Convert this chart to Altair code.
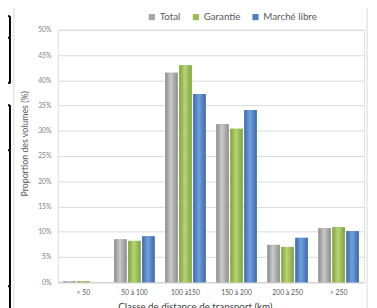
import altair as alt
import pandas as pd

categories = ["< 50", "50 à 100", "100 à150", "150 à 200", "200 à 250", "> 250"]
series = ["Total", "Garantie", "Marché libre"]
total = [0.2, 8.5, 41.5, 31.3, 7.4, 10.7]
garantie = [0.2, 8.2, 43.0, 30.4, 7.0, 10.9]
marche_libre = [0.0, 9.1, 37.3, 34.1, 8.8, 10.1]
legend_colors = ["#A5A5A5", "#9BBB59", "#4F81BD"]
edge_colors = ["#8C8C8C", "#7FA33A", "#3A6AAA"]
center_colors = ["#CACACA", "#B8D578", "#72A0DC"]
y_ticks = [0, 5, 10, 15, 20, 25, 30, 35, 40, 45, 50]

rows = []
for s, vals in zip(series, [total, garantie, marche_libre]):
    for c, v in zip(categories, vals):
        rows.append({"classe": c, "serie": s, "valeur": v})
df = pd.DataFrame(rows)

FONT = "Lato"

x_enc = alt.X(
    "classe:N",
    sort=categories,
    scale=alt.Scale(paddingInner=0.21, paddingOuter=0.105),
    axis=alt.Axis(
        title="Classe de distance de transport (km)",
        labelAngle=0,
        ticks=False,
        labelPadding=7,
        labelFontSize=7,
        labelColor="#595959",
        titleFontSize=10,
        titleFontWeight="normal",
        titleColor="#404040",
        titleX=140,
        titleY=28,
        titleBaseline="alphabetic",
        domainColor="#D0D0D0",
    ),
)
y_enc = alt.Y(
    "valeur:Q",
    scale=alt.Scale(domain=[0, 50], nice=False),
    axis=alt.Axis(
        title="Proportion des volumes (%)",
        values=y_ticks,
        labelExpr="datum.value + '%'",
        labelOverlap=False,
        grid=True,
        gridColor="#D9D9D9",
        domain=False,
        ticks=False,
        labelPadding=7,
        labelFontSize=7,
        labelColor="#7F7F7F",
        titleFontSize=9,
        titleFontWeight="normal",
        titleColor="#595959",
        titleY=116,
        titlePadding=8,
    ),
)
xoff = alt.XOffset("serie:N", sort=series,
                   scale=alt.Scale(domain=series, paddingInner=0.12, paddingOuter=0))

base = alt.Chart(df).mark_bar().encode(
    x=x_enc,
    y=y_enc,
    xOffset=xoff,
    color=alt.Color(
        "serie:N",
        sort=series,
        scale=alt.Scale(domain=series, range=legend_colors),
        legend=alt.Legend(
            title=None,
            orient="none",
            direction="horizontal",
            legendX=91,
            legendY=-18,
            symbolType="square",
            symbolSize=40,
            symbolStrokeWidth=0,
            labelFontSize=10,
            labelColor="#595959",
            labelFont=FONT,
            columnPadding=10,
            labelOffset=3,
            padding=0,
        ),
    ),
)

layers = [base]
for s, e, c in zip(series, edge_colors, center_colors):
    grad = alt.Gradient(
        gradient="linear",
        x1=0, x2=1, y1=0, y2=0,
        stops=[
            alt.GradientStop(color=e, offset=0),
            alt.GradientStop(color=c, offset=0.45),
            alt.GradientStop(color=e, offset=1),
        ],
    )
    layers.append(
        alt.Chart(df).transform_filter(alt.datum.serie == s).mark_bar(color=grad).encode(
            x=x_enc,
            y=y_enc,
            xOffset=xoff,
        )
    )

one = alt.Data(values=[{"k": 1}])
# chart frame lines
frame = [
    alt.Chart(one).mark_rule(color="#D9D9D9", strokeWidth=1).encode(
        x=alt.value(-45), y=alt.value(-30), y2=alt.value(285)),
    alt.Chart(one).mark_rule(color="#D9D9D9", strokeWidth=1).encode(
        x=alt.value(316), y=alt.value(-30), y2=alt.value(285)),
]
# document table fragments at the far left
tbl = []
for y1, y2 in [(-14, 55), (77, 285)]:
    tbl.append(alt.Chart(one).mark_rule(color="#000000", strokeWidth=2).encode(
        x=alt.value(-49), y=alt.value(y1), y2=alt.value(y2)))
for yy in [-14, 8, 54, 77, 123, 262]:
    tbl.append(alt.Chart(one).mark_rule(color="#000000", strokeWidth=2).encode(
        x=alt.value(-60), x2=alt.value(-49), y=alt.value(yy)))

chart = alt.layer(*layers, *tbl, *frame).properties(
    width=313,
    height=258,
    autosize=alt.AutoSizeParams(type="none"),
    padding={"left": 51, "top": 19, "right": 5, "bottom": 23},
).configure_view(stroke=None).configure(font=FONT)

chart.save("out.html", embed_options={"renderer": "svg", "actions": False})
